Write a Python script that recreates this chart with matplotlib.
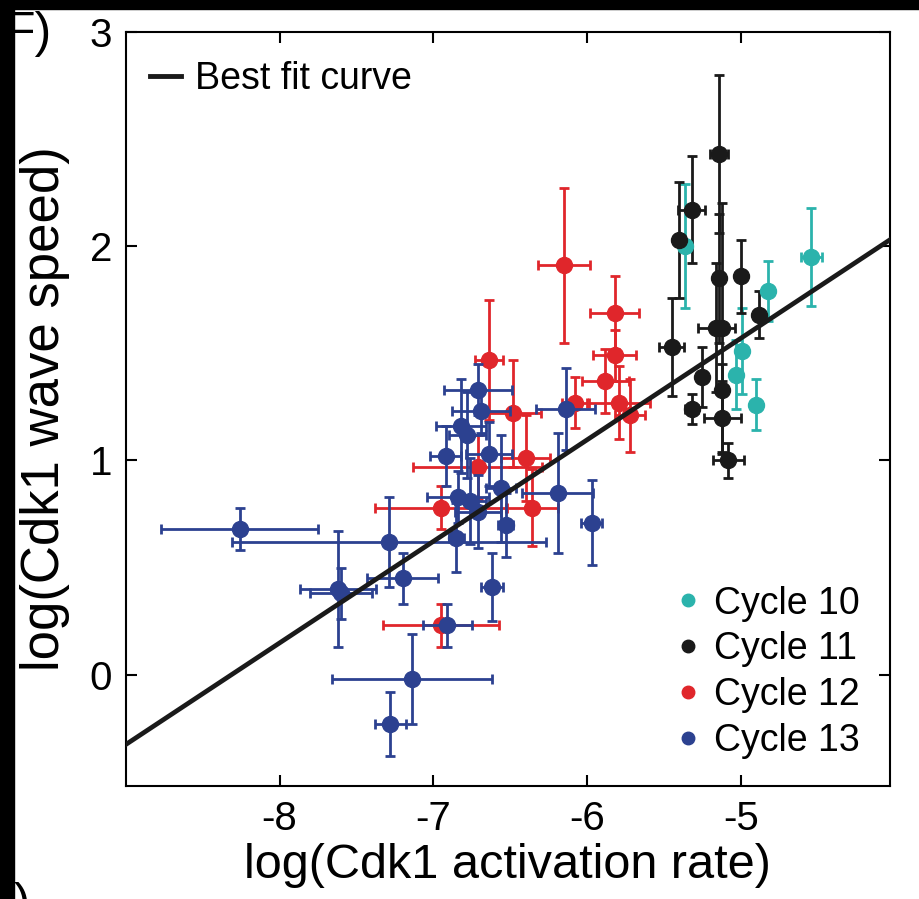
import matplotlib.pyplot as plt
from matplotlib.lines import Line2D
from matplotlib.patches import Rectangle
import numpy as np

plt.rcParams['font.family'] = ['Liberation Sans', 'DejaVu Sans']
plt.rcParams['axes.unicode_minus'] = False

# Cycle 10
c10_x = [-5.36, -4.54, -4.82, -4.99, -5.03, -4.90]
c10_y = [2.00, 1.95, 1.79, 1.51, 1.40, 1.26]
c10_xerr = [0.02, 0.07, 0.02, 0.02, 0.02, 0.02]
c10_yerr = [0.29, 0.23, 0.14, 0.20, 0.16, 0.12]

# Cycle 11
c11_x = [-5.14, -5.32, -5.40, -5.14, -5.00, -5.16, -5.12, -4.88, -5.45, -5.25, -5.32, -5.12, -5.12, -5.08]
c11_y = [2.43, 2.17, 2.03, 1.85, 1.86, 1.62, 1.62, 1.68, 1.53, 1.39, 1.24, 1.33, 1.20, 1.00]
c11_xerr = [0.06, 0.09, 0.0, 0.0, 0.0, 0.12, 0.0, 0.03, 0.08, 0.0, 0.04, 0.0, 0.12, 0.10]
c11_yerr = [0.37, 0.25, 0.27, 0.30, 0.17, 0.30, 0.58, 0.11, 0.23, 0.14, 0.07, 0.12, 0.17, 0.08]

# Cycle 12
c12_x = [-6.15, -5.82, -5.82, -6.64, -5.88, -5.79, -5.72, -6.08, -6.48, -6.40, -6.71, -6.95, -6.36, -6.95]
c12_y = [1.91, 1.69, 1.49, 1.47, 1.37, 1.27, 1.21, 1.27, 1.22, 1.01, 0.97, 0.78, 0.78, 0.23]
c12_xerr = [0.17, 0.16, 0.14, 0.09, 0.15, 0.20, 0.10, 0.08, 0.18, 0.16, 0.42, 0.43, 0.17, 0.38]
c12_yerr = [0.36, 0.17, 0.12, 0.28, 0.15, 0.17, 0.17, 0.12, 0.25, 0.20, 0.15, 0.10, 0.18, 0.10]

# Cycle 13
c13_x = [-8.26, -7.29, -7.62, -7.60, -7.20, -7.14, -7.28, -6.91, -6.62, -6.85, -5.97, -6.19,
         -6.53, -6.56, -6.84, -6.76, -6.71, -6.92, -6.64, -6.82, -6.78, -6.69, -6.71, -6.14]
c13_y = [0.68, 0.62, 0.40, 0.38, 0.45, -0.02, -0.23, 0.23, 0.41, 0.64, 0.71, 0.85,
         0.70, 0.87, 0.83, 0.81, 0.76, 1.02, 1.03, 1.16, 1.12, 1.23, 1.33, 1.24]
c13_xerr = [0.51, 1.02, 0.25, 0.20, 0.23, 0.52, 0.10, 0.16, 0.07, 0.05, 0.07, 0.23,
            0.05, 0.10, 0.20, 0.10, 0.15, 0.10, 0.15, 0.16, 0.12, 0.19, 0.22, 0.19]
c13_yerr = [0.10, 0.21, 0.27, 0.12, 0.12, 0.21, 0.15, 0.10, 0.16, 0.16, 0.20, 0.28,
            0.15, 0.25, 0.12, 0.20, 0.17, 0.14, 0.15, 0.22, 0.20, 0.10, 0.12, 0.19]

# recta de ajuste
FIT_SLOPE = 0.474
FIT_INTERCEPT = 3.94

cyan = '#2bb3ac'
negro = '#1a1a1a'
rojo = '#e0262b'
azul = '#2c4190'

fig = plt.figure(figsize=(9.19, 8.99), dpi=100)
ax = fig.add_axes([0.137, 0.1257, 0.8313, 0.8387])

estilo = dict(fmt='o', markersize=11.5, elinewidth=2.0, capsize=3.5, capthick=2.0)
ax.errorbar(c12_x, c12_y, xerr=c12_xerr, yerr=c12_yerr, color=rojo, ecolor=rojo, zorder=2, **estilo)
ax.errorbar(c13_x, c13_y, xerr=c13_xerr, yerr=c13_yerr, color=azul, ecolor=azul, zorder=2.1, **estilo)
ax.errorbar(c10_x, c10_y, xerr=c10_xerr, yerr=c10_yerr, color=cyan, ecolor=cyan, zorder=2.2, **estilo)
ax.errorbar(c11_x, c11_y, xerr=c11_xerr, yerr=c11_yerr, color=negro, ecolor=negro, zorder=2.3, **estilo)

ax.set_xlim(-9, -4.03)
ax.set_ylim(-0.52, 3)
xfit = np.array(ax.get_xlim())
ax.plot(xfit, FIT_SLOPE * xfit + FIT_INTERCEPT, color=negro, lw=3.4, zorder=5)

ax.set_xticks([-8, -7, -6, -5])
ax.set_yticks([0, 1, 2, 3])
ax.tick_params(direction='in', top=True, right=True, length=8, width=1.5, labelsize=29, pad=10)
for s in ax.spines.values():
    s.set_linewidth(1.5)
ax.set_xlabel('log(Cdk1 activation rate)', fontsize=35, labelpad=4)
ax.set_ylabel('log(Cdk1 wave speed)', fontsize=38, labelpad=14)

leg1 = ax.legend(handles=[Line2D([], [], color=negro, lw=3.5)], labels=['Best fit curve'],
                 loc='upper left', bbox_to_anchor=(0.031, 0.962), frameon=False, fontsize=27,
                 handlelength=0.85, handletextpad=0.35, borderpad=0, borderaxespad=0)
ax.add_artist(leg1)

marcas = [Line2D([], [], ls='', marker='o', color=c, markersize=9) for c in [cyan, negro, rojo, azul]]
ax.legend(handles=marcas, labels=['Cycle 10', 'Cycle 11', 'Cycle 12', 'Cycle 13'],
          loc='lower right', bbox_to_anchor=(0.961, 0.036), frameon=False, fontsize=27,
          handlelength=0.6, handletextpad=0.4, labelspacing=0.26, borderpad=0, borderaxespad=0)

# restos del panel vecino
fig.text(5 / 919, 1 - 47 / 899, 'F)', fontsize=36, va='baseline', ha='left')
fig.text(14 / 919, -0.02, ')', fontsize=35, va='baseline', ha='left')
fig.patches.append(Rectangle((0, 1 - 9 / 899), 1, 9 / 899, transform=fig.transFigure,
                             color='black', zorder=10))
fig.patches.append(Rectangle((0, 0), 14 / 919, 1, transform=fig.transFigure,
                             color='black', zorder=10))

fig.savefig('out.png', dpi=100)
